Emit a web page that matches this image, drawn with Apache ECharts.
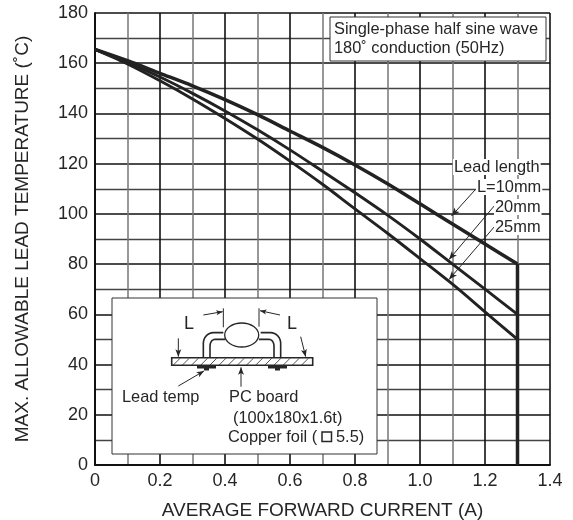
<!DOCTYPE html>
<html><head><meta charset="utf-8">
<script src="https://cdn.jsdelivr.net/npm/echarts@6/dist/echarts.min.js"></script>
<style>html,body{margin:0;padding:0;background:#fff}#c{width:573px;height:520px}</style>
</head><body><div id="c"></div>
<script>
const xName = 'AVERAGE FORWARD CURRENT (A)';
const yName = 'MAX. ALLOWABLE LEAD TEMPERATURE (˚C)';
const current = [0, 0.1, 0.2, 0.3, 0.4, 0.5, 0.6, 0.7, 0.8, 0.9, 1.0, 1.1, 1.2, 1.3];
const temp10  = [165.5, 161, 156, 151, 145.5, 139.5, 133, 126.5, 119.5, 112, 104, 96, 88, 80];
const temp20  = [165.5, 160.3, 154.5, 148, 141, 133.5, 125.5, 117, 108.4, 99.5, 90, 80, 70, 60];
const temp25  = [165.5, 159.7, 153, 145.8, 138, 129.8, 121, 111.8, 102, 92.3, 82.2, 72, 61, 50];
const dropCurrent = [1.3, 1.3];
const dropTemp = [80, 0];

const pair = (xs, ys) => xs.map((x, i) => [x, ys[i]]);
const ink = '#262626';
const font = 'Liberation Sans';
const fs = 16.4;

// --- annotation helpers (inset drawing and callouts, not data) ---
const line = (pts, w = 1, c = ink) => ({type:'polyline', z:20, shape:{points:pts}, style:{stroke:c, lineWidth:w, fill:null}});
const head = (x0, y0, x1, y1, s = 8) => {
  const a = Math.atan2(y1 - y0, x1 - x0), b = 0.38;
  return {type:'polygon', z:21, shape:{points:[[x1, y1],
    [x1 - s*Math.cos(a-b), y1 - s*Math.sin(a-b)],
    [x1 - s*0.7*Math.cos(a), y1 - s*0.7*Math.sin(a)],
    [x1 - s*Math.cos(a+b), y1 - s*Math.sin(a+b)]]}, style:{fill:ink}};
};
const arrow = (x0, y0, x1, y1, s) => [line([[x0,y0],[x1,y1]]), head(x0,y0,x1,y1,s)];
const text = (s, x, y, size = fs, bg) => ({type:'text', z:22, x, y, style:{
  text:s, fill:ink, font:size+'px "'+font+'"', textVerticalAlign:'middle', textAlign:'left',
  backgroundColor:bg||'transparent', padding: bg?[0,1,0,1]:0}});
const box = (x, y, w, h) => ({type:'rect', z:15, shape:{x,y,width:w,height:h}, style:{fill:'#fff', stroke:'#333', lineWidth:1}});
const Z = (zx, zy) => [90 + zx/3, 290 + zy/3];
const zl = (pts, w) => line(pts.map(p => Z(p[0], p[1])), w);
const za = (a,b,c,d,s) => { const p=Z(a,b), q=Z(c,d); return arrow(p[0],p[1],q[0],q[1],s); };

const hatch = [];
for (let zx = 258; zx < 668; zx += 27.5) hatch.push(zl([[zx-8, 225],[zx+12, 205]], 0.8));

const leadL = (o) => {
  const n = [];
  [[400,128,370,128,340,160],[405,148,375,148,360,168]].forEach(r=>{
    const arc=[[r[0],r[1]]];
    for (let t=0;t<=8;t++){const a=t/8*Math.PI/2;
      arc.push([r[2]-(r[2]-r[4])*Math.sin(a), r[5]-(r[5]-r[3])*Math.cos(a)]);}
    arc.push([r[4],203]);
    n.push(zl(arc.map(p=>[o? 912-p[0] : p[0], p[1]]),1.6));
  });
  return n;
};

const graphic = [
  box(330, 17, 216, 44),
  text('Single-phase half sine wave', 334, 29.5),
  text('180˚ conduction (50Hz)', 334, 48.5),
  // callouts
  text('Lead length', 453, 167, fs, '#fff'),
  text('L=10mm', 476, 187, fs, '#fff'),
  text('20mm', 494, 207, fs, '#fff'),
  text('25mm', 494, 227, fs, '#fff'),
  ...arrow(475, 190, 451.5, 216, 9),
  ...arrow(495, 205, 449, 259.5, 9),
  ...arrow(495, 226, 449, 279.5, 9),
  // inset
  box(112, 298, 265, 156),
  {type:'rect', z:20, shape:{x:171.7,y:357.7,width:141,height:7.6}, style:{fill:'#fff',stroke:ink,lineWidth:1.6}},
  ...hatch,
  ...leadL(false), ...leadL(true),
  {type:'ellipse', z:21, shape:{cx:241.7,cy:335,rx:17,ry:12}, style:{fill:'#fff',stroke:ink,lineWidth:1.3}},
  {type:'rect', z:20, shape:{x:197,y:366,width:19,height:2.5}, style:{fill:ink}},
  {type:'rect', z:20, shape:{x:268,y:366,width:19,height:2.5}, style:{fill:ink}},
  {type:'rect', z:20, shape:{x:204,y:367,width:5,height:3.5}, style:{fill:ink}},
  {type:'rect', z:20, shape:{x:275,y:367,width:5,height:3.5}, style:{fill:ink}},
  zl([[400,55],[400,112]],1), zl([[507,55],[507,110]],1),
  ...za(340,75,398,65,7), ...za(570,75,510,62,7),
  ...za(265,145,265,200,8), ...za(632,140,647,200,8),
  ...za(265,288,342,243,8), ...za(453,290,453,232,8),
  text('L', 184, 324, 18), text('L', 287, 324, 18),
  text('Lead temp', 122, 397),
  text('PC board', 229, 397),
  text('(100x180x1.6t)', 233, 418),
  text('Copper foil (', 228, 437),
  {type:'rect', z:21, shape:{x:322,y:432,width:9.5,height:9.5}, style:{fill:'#fff',stroke:ink,lineWidth:1.5}},
  text('5.5)', 336, 437)
];

const curve = (name, data, w, smooth) => ({name, type:'line', data, smooth, symbol:'none', z:10,
  lineStyle:{color:'#222', width:w, join:'miter', cap:'butt'}, silent:true, animation:false});

const chart = echarts.init(document.getElementById('c'), null, {renderer:'canvas'});
chart.setOption({
  animation:false,
  backgroundColor:'#fff',
  grid:{left:95, top:13, width:455, height:452, containLabel:false, outerBoundsMode:'none', show:false},
  xAxis:{type:'value', min:0, max:1.4, interval:0.2,
    name:xName, nameLocation:'middle', nameGap:36,
    nameTextStyle:{fontFamily:font, fontSize:19, color:ink},
    axisLine:{show:true, onZero:false, lineStyle:{color:'#111', width:2}},
    axisTick:{show:false},
    axisLabel:{fontFamily:font, fontSize:18, color:ink, margin:7, showMinLabel:true, showMaxLabel:true, hideOverlap:false,
      formatter:v => v===0 ? '0' : v.toFixed(1)},
    splitLine:{show:true, lineStyle:{color:'#111', width:1.6}},
    minorTick:{show:false, splitNumber:2},
    minorSplitLine:{show:true, lineStyle:{color:'#777', width:1.5}}},
  yAxis:{type:'value', min:0, max:180, interval:20,
    name:yName, nameLocation:'middle', nameGap:62.5,
    nameTextStyle:{fontFamily:font, fontSize:19, color:ink},
    axisLine:{show:true, onZero:false, lineStyle:{color:'#111', width:2}},
    axisTick:{show:false},
    axisLabel:{fontFamily:font, fontSize:18, color:ink, margin:7, showMinLabel:true, showMaxLabel:true},
    splitLine:{show:true, lineStyle:{color:'#111', width:1.6}},
    minorTick:{show:false, splitNumber:2},
    minorSplitLine:{show:true, lineStyle:{color:'#444', width:1.3}}},
  series:[
    curve('L=10mm', pair(current, temp10), 3.5, 0.3),
    curve('L=10mm limit', pair(dropCurrent, dropTemp), 3.5, false),
    curve('20mm', pair(current, temp20), 2.9, 0.3),
    curve('25mm', pair(current, temp25), 2.9, 0.3)
  ],
  graphic:{elements:graphic}
});
</script></body></html>
